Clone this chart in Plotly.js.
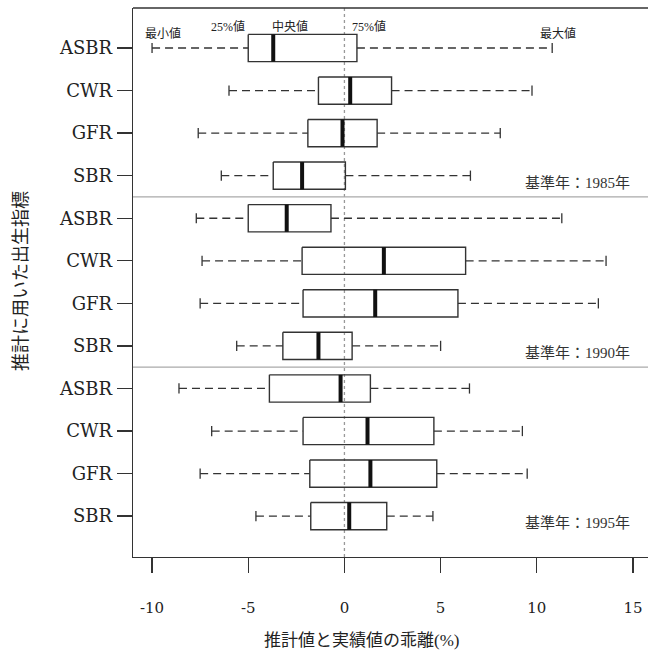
<!DOCTYPE html>
<html>
<head>
<meta charset="utf-8">
<script src="https://cdn.plot.ly/plotly-3.0.1.min.js"></script>
<style>html,body{margin:0;padding:0;background:#fff;}#chart{width:648px;height:660px;}</style>
</head>
<body>
<div id="chart"></div>
<script>
// ---- data ----
const categories = ['ASBR','CWR','GFR','SBR','ASBR','CWR','GFR','SBR','ASBR','CWR','GFR','SBR'];
const baseYears = ['1985','1990','1995'];
const minVals = [-10.0, -6.0, -7.6, -6.4,  -7.7, -7.4, -7.5, -5.6,  -8.6, -6.9, -7.5, -4.6];
const q1Vals  = [-5.0, -1.35, -1.9, -3.7,  -5.0, -2.2, -2.15, -3.2, -3.9, -2.15, -1.8, -1.75];
const medVals = [-3.7,  0.3, -0.1, -2.2,   -3.0, 2.05, 1.6, -1.35,  -0.2, 1.2, 1.35, 0.25];
const q3Vals  = [0.65, 2.45, 1.7, 0.05,    -0.7, 6.3, 5.9, 0.4,     1.35, 4.65, 4.8, 2.2];
const maxVals = [10.8, 9.75, 8.1, 6.55,    11.3, 13.6, 13.2, 5.0,   6.5, 9.25, 9.5, 4.6];
const xTicks = [-10, -5, 0, 5, 10, 15];

// ---- build marks ----
const H = 0.32, C = 0.12;
const pos = categories.map((_, i) => i + 1);
const bx = [], by = [], mx = [], my = [], wx = [], wy = [], cx = [], cy = [];
pos.forEach((p, i) => {
  bx.push(q1Vals[i], q3Vals[i], q3Vals[i], q1Vals[i], q1Vals[i], null);
  by.push(p - H, p - H, p + H, p + H, p - H, null);
  mx.push(medVals[i], medVals[i], null);
  my.push(p - H, p + H, null);
  wx.push(minVals[i], q1Vals[i], null, q3Vals[i], maxVals[i], null);
  wy.push(p, p, null, p, p, null);
  cx.push(minVals[i], minVals[i], null, maxVals[i], maxVals[i], null);
  cy.push(p - C, p + C, null, p - C, p + C, null);
});

const serif = 'DejaVu Serif, Liberation Serif, Noto Sans CJK JP, serif';
const jp = 'Liberation Serif, Noto Sans CJK JP, serif';

const traces = [
  {type:'scatter', mode:'lines', x:wx, y:wy, line:{color:'#333', width:1.3, dash:'8px,5px'}, hoverinfo:'skip'},
  {type:'scatter', mode:'lines', x:cx, y:cy, line:{color:'#333', width:1.3}, hoverinfo:'skip'},
  {type:'scatter', mode:'lines', x:bx, y:by, line:{color:'#333', width:1.4}, hoverinfo:'skip'},
  {type:'scatter', mode:'lines', x:mx, y:my, line:{color:'#111', width:4}, hoverinfo:'skip'}
];

const annotations = [
  {text:'最小値', x:-9.43, y:0.65},
  {text:'25%値', x:-6.05, y:0.5},
  {text:'中央値', x:-2.83, y:0.5},
  {text:'75%値', x:1.28, y:0.5},
  {text:'最大値', x:11.1, y:0.65}
].map(a => Object.assign(a, {xref:'x', yref:'y', showarrow:false, font:{family:jp, size:12, color:'#222'}}));

baseYears.forEach((yr, k) => {
  annotations.push({text:'基準年：' + yr + '年', x:14.95, y:4.17 + 4*k, xref:'x', yref:'y', xanchor:'right',
    showarrow:false, font:{family:jp, size:15, color:'#333'}});
});
annotations.push({text:'推計値と実績値の乖離(%)', xref:'paper', yref:'paper', x:(361-133)/515, y:-(640-557)/549,
  yanchor:'middle', showarrow:false, font:{family:jp, size:17, color:'#222'}});
annotations.push({text:'推計に用いた出生指標', xref:'paper', yref:'paper', x:-(133-21)/515, y:(557-281)/549,
  xanchor:'center', yanchor:'middle', textangle:-90, showarrow:false, font:{family:jp, size:18, color:'#222'}});

const shapes = [
  {type:'line', xref:'x', yref:'paper', x0:0, x1:0, y0:0, y1:1, layer:'below', line:{color:'#999', width:1.3, dash:'dot'}},
  {type:'line', xref:'paper', yref:'y', x0:0, x1:1, y0:4.5, y1:4.5, layer:'below', line:{color:'#aaa', width:1.3}},
  {type:'line', xref:'paper', yref:'y', x0:0, x1:1, y0:8.5, y1:8.5, layer:'below', line:{color:'#aaa', width:1.3}},
  {type:'line', xref:'paper', yref:'paper', x0:0, x1:1, y0:1, y1:1, line:{color:'#333', width:1.3}}
];

const layout = {
  width:648, height:660,
  margin:{l:133, r:0, t:8, b:103},
  paper_bgcolor:'#fff', plot_bgcolor:'#fff',
  showlegend:false,
  xaxis:{range:[-10.99, 15.78], tickvals:xTicks, ticktext:xTicks.map(String), showgrid:false, zeroline:false,
    showline:true, linecolor:'#333', linewidth:1.3, ticks:'outside', ticklen:15, tickwidth:1.3, tickcolor:'#333',
    ticklabelstandoff:22, tickfont:{family:serif, size:15, color:'#222'}, fixedrange:true},
  yaxis:{range:[12.96, 0.06], tickvals:pos, ticktext:categories, showgrid:false, zeroline:false,
    showline:true, linecolor:'#333', linewidth:1.3, ticks:'outside', ticklen:15, tickwidth:1.3, tickcolor:'#333',
    ticklabelstandoff:1, tickfont:{family:serif, size:18, color:'#222'}, fixedrange:true},
  annotations:annotations,
  shapes:shapes
};

Plotly.newPlot('chart', traces, layout, {displayModeBar:false, staticPlot:true});
</script>
</body>
</html>
